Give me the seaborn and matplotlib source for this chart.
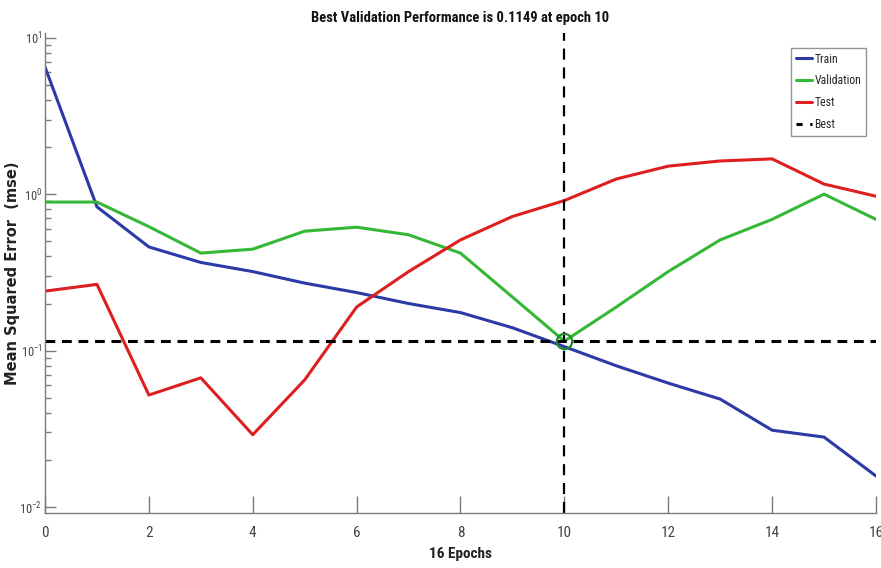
import numpy as np
import pandas as pd
import matplotlib
matplotlib.use("Agg")
import matplotlib.pyplot as plt
import seaborn as sns
from matplotlib.lines import Line2D

epochs = list(range(17))
train = [6.5, 0.83, 0.46, 0.366, 0.32, 0.27, 0.235, 0.20, 0.175, 0.14, 0.106,
         0.08, 0.062, 0.049, 0.031, 0.028, 0.0158]
validation = [0.89, 0.89, 0.62, 0.42, 0.445, 0.58, 0.615, 0.55, 0.42, 0.22, 0.1149,
              0.19, 0.32, 0.51, 0.69, 1.0, 0.69]
test = [0.24, 0.265, 0.052, 0.067, 0.029, 0.065, 0.19, 0.32, 0.51, 0.72, 0.91,
        1.25, 1.51, 1.63, 1.68, 1.16, 0.97]
best_epoch = 10
best_value = 0.1149
series_names = ["Train", "Validation", "Test"]
colors = {"Train": "#2b3aa6", "Validation": "#35b835", "Test": "#dd1f1f"}

df = pd.concat([
    pd.DataFrame({"epoch": epochs, "mse": train, "set": "Train"}),
    pd.DataFrame({"epoch": epochs, "mse": validation, "set": "Validation"}),
    pd.DataFrame({"epoch": epochs, "mse": test, "set": "Test"}),
])

sns.set_style("white")
narrow = ["Roboto Condensed", "Liberation Sans Narrow", "DejaVu Sans"]
plt.rcParams["font.family"] = narrow
plt.rcParams["font.stretch"] = "condensed"

fig = plt.figure(figsize=(8.81, 5.68), dpi=100)
ax = fig.add_axes([0.0511, 0.0968, 0.9432, 0.8451])

sns.lineplot(data=df, x="epoch", y="mse", hue="set", hue_order=series_names,
             palette=colors, linewidth=2.2, ax=ax, legend=False)

ax.set_yscale("log")
ax.axhline(best_value, color="black", linestyle=(0, (3.2, 2.2)), linewidth=2.2)
ax.axvline(best_epoch, color="black", linestyle=(0, (5, 3.5)), linewidth=1.6)
ax.plot([best_epoch], [best_value], marker="o", markersize=11, markerfacecolor="none",
        markeredgecolor="#1e8a2a", markeredgewidth=1.6)

ax.set_xlim(0, 16)
ax.set_ylim(10 ** -2.038, 10 ** 1.03)
ax.set_xticks(range(0, 17, 2))

for s in ["top", "right"]:
    ax.spines[s].set_visible(False)
for s in ["left", "bottom"]:
    ax.spines[s].set_color("#7a7a7a")
    ax.spines[s].set_linewidth(1.0)

ax.tick_params(axis="x", which="major", bottom=True, direction="in", length=12,
               width=1.0, color="#7a7a7a", labelsize=11, labelcolor="#444444", pad=9)
ax.tick_params(axis="y", which="major", left=True, direction="in", length=8,
               width=1.0, color="#7a7a7a", labelsize=9, labelcolor="#444444", pad=2)
ax.tick_params(axis="y", which="minor", left=True, direction="in", length=4,
               width=1.0, color="#7a7a7a")

ax.set_title("Best Validation Performance is 0.1149 at epoch 10", fontsize=10.5,
             fontweight="bold", pad=8, color="#111111")
ax.set_xlabel("16 Epochs", fontsize=11, fontweight="bold", color="#222222")
ax.xaxis.set_label_coords(0.5, -0.07)
ax.set_ylabel("Mean Squared Error  (mse)", fontsize=10.5, fontweight="bold",
              family=["DejaVu Sans"], fontstretch="normal", color="#222222")
ax.yaxis.set_label_coords(-0.03, 0.5)

handles = [Line2D([], [], color=colors["Train"], lw=2.2),
           Line2D([], [], color=colors["Validation"], lw=2.2),
           Line2D([], [], color=colors["Test"], lw=2.2),
           Line2D([], [], color="black", lw=2.2, linestyle=(0, (2, 2.5)))]
leg = ax.legend(handles, ["Train", "Validation", "Test", "Best"], loc="upper right",
                bbox_to_anchor=(0.988, 0.969), fontsize=8.5, frameon=True,
                fancybox=False, edgecolor="#7a7a7a", handlelength=1.4,
                handletextpad=0.2, labelspacing=0.75, borderpad=0.4, borderaxespad=0)
leg.get_frame().set_linewidth(1.0)

fig.savefig("out.png", dpi=100)
